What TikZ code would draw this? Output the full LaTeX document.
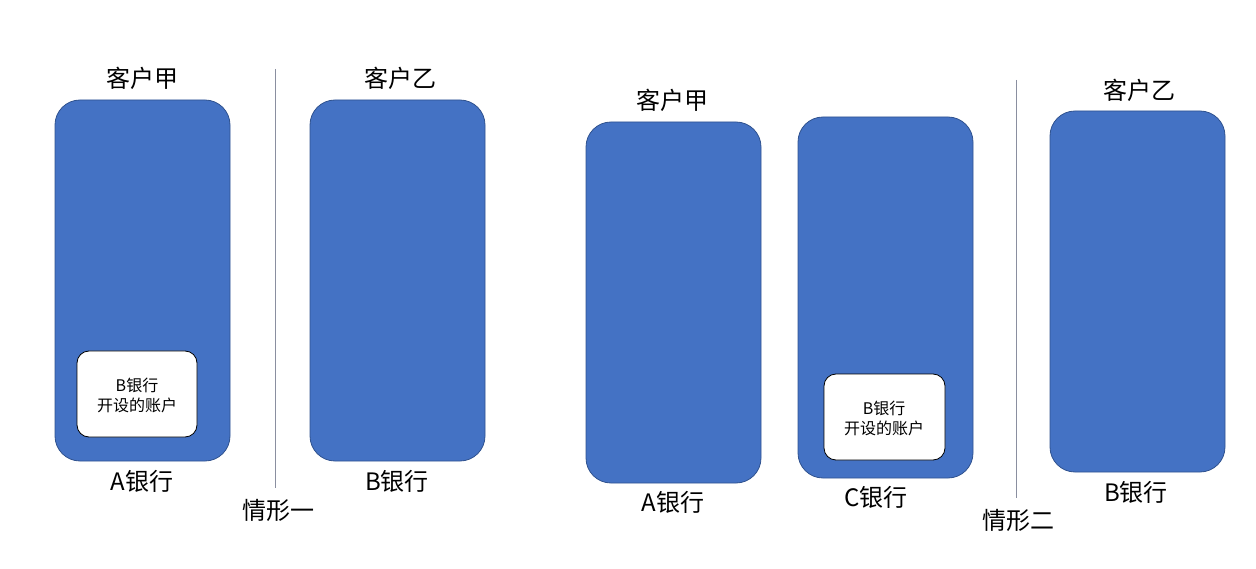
\documentclass[tikz,border=0pt]{standalone}
\usepackage{fontspec}
\setmainfont{Noto Sans CJK SC}
\newfontfamily\cjk{Noto Sans CJK SC}
\definecolor{bankfill}{HTML}{4472C4}
\definecolor{bankline}{HTML}{2F528F}
\definecolor{sepline}{HTML}{8A8FA0}
\begin{document}
\begin{tikzpicture}[x=1pt,y=-1pt,
  bank/.style={fill=bankfill,draw=bankline,line width=0.8pt,rounded corners=25pt},
  acct/.style={fill=white,draw=black,line width=0.8pt,rounded corners=12pt},
  lbl/.style={font=\cjk\fontsize{24}{28}\selectfont,inner sep=0pt},
  small/.style={font=\cjk\fontsize{16}{20}\selectfont,align=center,inner sep=0pt},
  sep/.style={draw=sepline,line width=0.9pt}]
\useasboundingbox (0,0) rectangle (1256,569);
% Case 1
\draw[bank] (55,100) rectangle (230,461);
\draw[bank] (310,100) rectangle (485,461);
\draw[acct] (77,351) rectangle (197,437);
\node[small] (acc1) at (137,395) {B银行\\开设的账户};
\node[lbl] (k1) at (142,78) {客户甲};
\node[lbl] (k2) at (400,78) {客户乙};
\node[lbl] (b1) at (142,481) {A银行};
\node[lbl] (b2) at (397,481) {B银行};
\node[lbl] (q1) at (278,510) {情形一};
\coordinate (s1a) at (275,69);
\coordinate (s1b) at (275,488);
\draw[sep] (s1a) -- (s1b);
% Case 2
\draw[bank] (586,122) rectangle (761,483);
\draw[bank] (798,117) rectangle (973,478);
\draw[bank] (1050,111) rectangle (1225,472);
\draw[acct] (824,374) rectangle (945,460);
\node[small] (acc2) at (884,418) {B银行\\开设的账户};
\node[lbl] (k3) at (672,100) {客户甲};
\node[lbl] (k4) at (1139,90) {客户乙};
\node[lbl] (b3) at (673,502) {A银行};
\node[lbl] (b4) at (876,497) {C银行};
\node[lbl] (b5) at (1136,492) {B银行};
\node[lbl] (q2) at (1018,520) {情形二};
\coordinate (s2a) at (1016,80);
\coordinate (s2b) at (1016,498);
\draw[sep] (s2a) -- (s2b);
\end{tikzpicture}
\end{document}
